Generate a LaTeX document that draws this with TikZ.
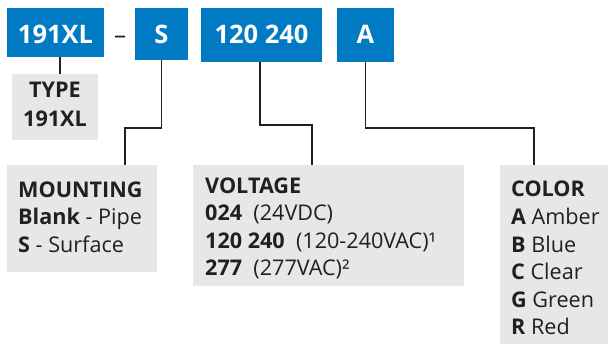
\documentclass[tikz,border=0pt]{standalone}
\usepackage{fontspec}
\setmainfont{Open Sans}
\definecolor{codeblue}{HTML}{007AC2}
\definecolor{boxgray}{HTML}{E6E7E8}
\definecolor{ink}{HTML}{231F20}
\begin{document}
\begin{tikzpicture}[x=1pt,y=-1pt,
  codebox/.style={fill=codeblue, text=white, inner sep=0pt, anchor=base,
    font=\fontsize{25.5}{26}\selectfont\bfseries, text height=36pt},
  graybox/.style={fill=boxgray, inner sep=0pt},
  ln/.style={anchor=base west, text=ink, inner sep=0pt, font=\fontsize{21.6}{24}\selectfont},
  lnc/.style={ln, anchor=base, font=\fontsize{21.6}{24}\selectfont\bfseries},
  conn/.style={draw=ink, line width=1.3pt}]
\useasboundingbox (0,0) rectangle (608,345);
% code boxes
\node[codebox, text depth=13pt, minimum width=97pt] (b191) at (55.5,44) {191XL};
\node[anchor=base, text=ink, inner sep=0pt, font=\fontsize{24}{24}\selectfont] (dash) at (120,44) {–};
\node[codebox, text depth=16pt, minimum width=53pt] (bS) at (161.5,44) {S};
\node[codebox, text depth=18pt, minimum width=121pt] (b120) at (261.5,44) {120 240};
\node[codebox, text depth=18pt, minimum width=57pt] (bA) at (365.5,44) {A};
% gray boxes
\node[graybox, minimum width=86pt, minimum height=66pt] (type) at (55,107) {};
\node[graybox, minimum width=150pt, minimum height=107pt] (mount) at (82,218.5) {};
\node[graybox, minimum width=271pt, minimum height=121pt] (volt) at (328.5,225.5) {};
\node[graybox, minimum width=108pt, minimum height=179pt] (color) at (554,254.5) {};
% type text
\node[lnc] (t1) at (55,98) {TYPE};
\node[lnc] (t2) at (55,126) {191XL};
% mounting text
\node[ln] (m1) at (18,197) {\bfseries MOUNTING};
\node[ln] (m2) at (18,224.5) {\textbf{Blank} - Pipe};
\node[ln] (m3) at (18,252) {\textbf{S} - Surface};
% voltage text
\node[ln] (v1) at (205,193) {\bfseries VOLTAGE};
\node[ln] (v2) at (205,220.5) {\textbf{024}\ \ (24VDC)};
\node[ln] (v3) at (205,248) {\textbf{120 240}\ \ (120-240VAC)¹};
\node[ln] (v4) at (205,275.5) {\textbf{277}\ \ (277VAC)²};
% color text
\node[ln] (c1) at (511,196) {\bfseries COLOR};
\node[ln] (c2) at (511,224) {\textbf{A} Amber};
\node[ln] (c3) at (511,252) {\textbf{B} Blue};
\node[ln] (c4) at (511,279.5) {\textbf{C} Clear};
\node[ln] (c5) at (511,307) {\textbf{G} Green};
\node[ln] (c6) at (511,334) {\textbf{R} Red};
% connectors
\coordinate (k1) at (125,128);
\coordinate (k2) at (312,125);
\coordinate (k3) at (534,128);
\draw[conn] ([xshift=4.5pt]b191.south) -- ([xshift=4.5pt]b191.south |- type.north);
\draw[conn] (bS.south) |- (k1) -- (k1 |- mount.north);
\draw[conn] ([xshift=-1.5pt]b120.south) |- (k2) -- (k2 |- volt.north);
\draw[conn] (bA.south) |- (k3) -- (k3 |- color.north);
\end{tikzpicture}
\end{document}
